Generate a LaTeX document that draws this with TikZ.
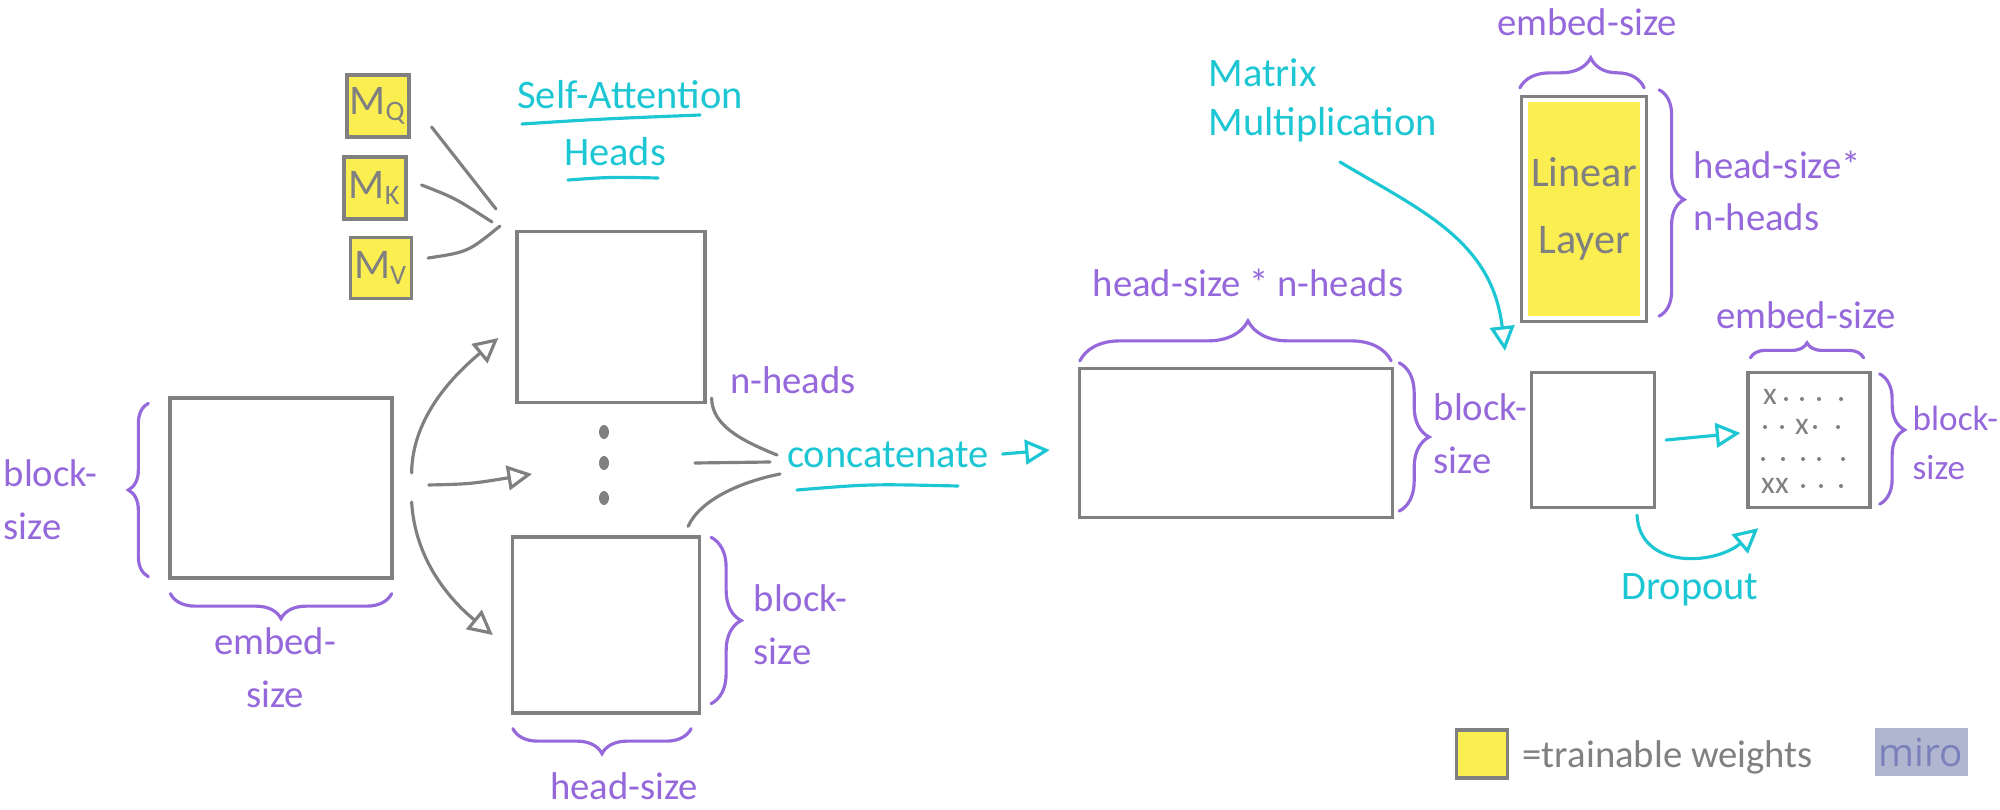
\documentclass[tikz,border=0pt]{standalone}
\usepackage{fontspec}
\setmainfont{Carlito}
\newfontfamily\logofont{Open Sans}
\usepackage{tikz}
\usetikzlibrary{arrows.meta}
\usetikzlibrary{positioning,decorations.pathreplacing}
\usetikzlibrary{calc}
\definecolor{penGrey}{HTML}{808080}
\definecolor{dimPurple}{HTML}{9568DB}
\definecolor{noteTeal}{HTML}{1CC6D3}
\definecolor{hlYellow}{HTML}{FAEE50}
\definecolor{miroBack}{HTML}{B1B6D0}
\definecolor{miroText}{HTML}{7A80B9}
\tikzset{
    mat/.style={
        draw=penGrey,
        line width=0.9pt,
        inner sep=0pt
    },
    weight/.style={
        mat,
        fill=hlYellow,
        text=penGrey,
        font=\fontsize{12}{14}\selectfont
    },
    layerbox/.style={
        mat,
        fill=white,
        text=penGrey,
        align=center,
        font=\fontsize{12}{19}\selectfont,
        path picture={
            \fill[hlYellow] ([shift={(0.07cm,-0.06cm)}]path picture bounding box.north west)
                rectangle ([shift={(-0.07cm,0.06cm)}]path picture bounding box.south east);
        }
    },
    dim/.style={
        text=dimPurple,
        font=\fontsize{11}{15}\selectfont,
        align=left,
        inner sep=0pt
    },
    note/.style={
        text=noteTeal,
        font=\fontsize{11.5}{14}\selectfont,
        align=left,
        inner sep=0pt
    },
    xmark/.style={
        text=penGrey,
        font=\fontsize{9}{9}\selectfont,
        inner sep=0pt
    },
    brc/.style={
        draw=dimPurple,
        line width=0.9pt,
        decorate,
        decoration={brace, amplitude=#1}
    },
    brc/.default=0.25cm
}

\begin{document}
\begin{tikzpicture}[
      x = 0.01cm, y = -0.01cm,
      > = {Triangle[open, length=7pt, width=7pt]},
      line cap = round,
      feed/.style = {draw=penGrey, line width=0.9pt},
      flow/.style = {draw=noteTeal, line width=0.9pt, ->},
      uline/.style = {draw=noteTeal, line width=0.9pt}
  ]
  \useasboundingbox (0,0) rectangle (2000,809);

  % Input and the q/k/v weights
  \node[mat, minimum width=2.22cm, minimum height=1.80cm] (input) at (281,488) {};
  \node[weight, minimum size=0.62cm] (mq) at (378,106) {M\textsubscript{Q}};
  \node[weight, minimum size=0.62cm] (mk) at (375,188) {M\textsubscript{K}};
  \node[weight, minimum size=0.61cm] (mv) at (381,268) {M\textsubscript{V}};

  % Heads
  \node[mat, minimum width=1.88cm, minimum height=1.71cm] (headA) at (611,317) {};
  \node[mat, minimum width=1.87cm, minimum height=1.76cm] (headB) at (606,625) {};
  \foreach \y in {432,463,498}
    \fill[penGrey] (604,\y) ellipse [x radius=0.05cm, y radius=0.07cm];

  % Concatenated result and projection
  \node[mat, minimum width=3.13cm, minimum height=1.49cm] (concat) at (1236,443) {};
  \node[layerbox, minimum width=1.25cm, minimum height=2.25cm] (linear) at (1584,209) {Linear\\Layer};
  \node[mat, minimum width=1.23cm, minimum height=1.35cm] (proj) at (1593,440) {};
  \node[mat, minimum width=1.22cm, minimum height=1.35cm] (drop) at (1809,440) {};

  % Dropped entries
  \foreach \p [count=\i] in {(1770,397),(1802,427),(1768,486),(1782,486)}
    \node[xmark] (x\i) at \p {x};
  \foreach \p in {(1786,399),(1802,399),(1819,399),(1841,399),
                  (1765,427),(1782,427),(1815,427),(1838,427),
                  (1763,459),(1783,459),(1803,459),(1819,459),(1843,459),
                  (1803,486),(1821,486),(1841,486)}
    \fill[penGrey] \p circle [radius=0.02cm];

  % Notes
  \node[note] (sattn) at (630,95) {Self-Attention};
  \node[note] (heads) at (615,152) {Heads};
  \draw[uline] (522,124) .. controls (600,119) .. (700,115);
  \draw[uline] (568,180) .. controls (610,177) .. (658,178);
  \node[note] (cattxt) at (888,455) {concatenate};
  \draw[uline] (797,490) .. controls (870,484) .. (958,486);
  \node[note, anchor=west] (mmtxt) at (1208,100) {Matrix\\Multiplication};
  \node[note] (droptxt) at (1690,590) {Dropout};

  % Dimensions
  \node[dim, anchor=west] (inblock) at (3,500) {block-\\size};
  \node[dim, align=center] (inembed) at (275,668) {embed-\\size};
  \node[dim] (nheads) at (793,380) {n-heads};
  \node[dim, anchor=west] (hdblock) at (753,625) {block-\\size};
  \node[dim] (hdsize) at (624,786) {head-size};
  \node[dim] (catwidth) at (1248,283) {head-size * n-heads};
  \node[dim, anchor=west] (catblock) at (1433,434) {block-\\size};
  \node[dim] (linembed) at (1587,22) {embed-size};
  \node[dim, anchor=west] (linheads) at (1693,191) {head-size*\\n-heads};
  \node[dim] (dropembed) at (1806,315) {embed-size};
  \node[dim, anchor=west, font=\fontsize{10}{14}\selectfont] (dropblock) at (1912,443) {block-\\size};

  % Braces
  \draw[brc=0.2cm] ([shift={(-20,-3)}]input.south west) -- ([shift={(-20,7)}]input.north west);
  \draw[brc=0.25cm] ([shift={(-2,14)}]input.south east) -- ([shift={(2,14)}]input.south west);
  \draw[brc=0.3cm] ([shift={(10,2)}]headB.north east) -- ([shift={(10,-11)}]headB.south east);
  \draw[brc=0.25cm] ([shift={(-10,14)}]headB.south east) -- ([shift={(2,14)}]headB.south west);
  \draw[brc=0.4cm, decoration={aspect=0.54}] ([shift={(2,-6)}]concat.north west) -- ([shift={(-3,-6)}]concat.north east);
  \draw[brc=0.3cm] ([shift={(5,-4)}]concat.north east) -- ([shift={(5,-8)}]concat.south east);
  \draw[brc=0.3cm, decoration={aspect=0.57}] ([shift={(0,-7)}]linear.north west) -- ([shift={(-4,-7)}]linear.north east);
  \draw[brc=0.25cm, decoration={aspect=0.485}] ([shift={(11,-5)}]linear.north east) -- ([shift={(11,-7)}]linear.south east);
  \draw[brc=0.15cm] ([shift={(4,-13)}]drop.north west) -- ([shift={(-8,-13)}]drop.north east);
  \draw[brc=0.25cm, decoration={aspect=0.43}] ([shift={(8,3)}]drop.north east) -- ([shift={(8,-5)}]drop.south east);

  % Weights feeding the heads
  \coordinate (fanq) at (496,209);
  \coordinate (fank) at (492,222);
  \coordinate (fanv) at (500,226);
  \draw[feed] (mq.east) ++(21,21) -- (fanq);
  \draw[feed] (mk.east) ++(14,-3) .. controls (455,198) .. (fank);
  \draw[feed] (mv.east) ++(15,-10) .. controls (468,252) .. (fanv);

  % Input into the heads
  \coordinate (gap) at (532,474);
  \draw[feed, ->] (input.east) ++(18,-15) .. controls (412,420) and (450,378) .. ([shift={(-17,21)}]headA.west);
  \draw[feed, ->] (input.east) ++(35,-3) .. controls (470,484) .. (gap);
  \draw[feed, ->] (input.east) ++(18,14) .. controls (415,560) and (450,600) .. ([shift={(-18,10)}]headB.west);

  % Heads merging
  \coordinate (mergeA) at (777,455);
  \coordinate (mergeB) at (770,462);
  \coordinate (mergeC) at (780,474);
  \draw[feed] (headA.south east) ++(5,-6) .. controls (712,425) and (740,440) .. (mergeA);
  \draw[feed] (695,463) -- (mergeB);
  \draw[feed] (headB.north east) ++(-13,-9) .. controls (700,500) and (740,482) .. (mergeC);

  % Teal arrows
  \coordinate (mmfoot) at (1340,162);
  \draw[flow] (cattxt.east) ++(13,-1) -- ([shift={(-28,7)}]concat.west);
  \draw[flow] (mmfoot) .. controls (1420,210) and (1492,240) .. ([shift={(-88,-20)}]proj.north);
  \draw[flow] ([shift={(10,0)}]proj.east) -- ([shift={(-6,-7)}]drop.west);
  \draw[flow] ([shift={(44,6)}]proj.south) .. controls (1640,570) and (1715,565) .. ([shift={(12,19)}]drop.south west);

  % Legend and logo
  \node[weight, minimum width=0.51cm, minimum height=0.48cm] (key) at (1482,754) {};
  \node[anchor=west, text=penGrey, font=\fontsize{11}{13}\selectfont, inner sep=0pt] (keytxt) at (1522,757) {=trainable weights};
  \node[fill=miroBack, text=miroText, minimum width=0.93cm, minimum height=0.48cm, inner sep=0pt, font=\logofont\fontsize{11}{11}\selectfont] (miro) at (1921,752) {miro};
\end{tikzpicture}
\end{document}
